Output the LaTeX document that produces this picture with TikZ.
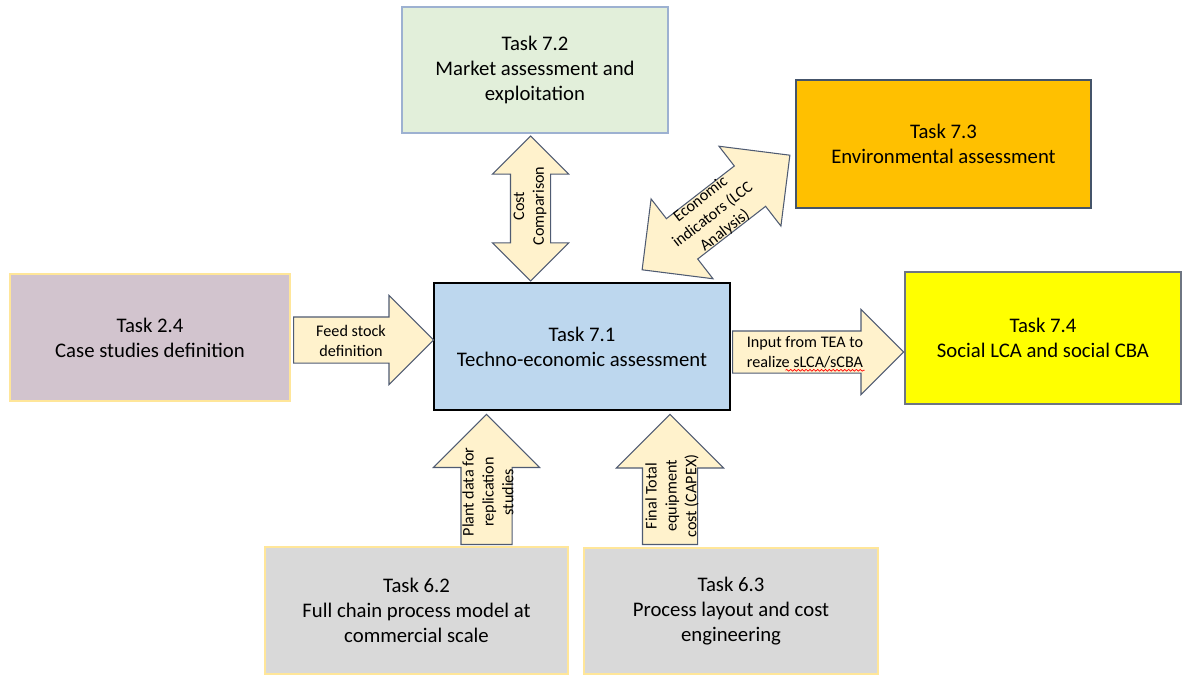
\documentclass[tikz,border=0pt]{standalone}
\usepackage{fontspec}
\setmainfont{Carlito}
\usetikzlibrary{shapes.arrows,decorations.pathmorphing}
\definecolor{greenfill}{HTML}{E2EFDA}
\definecolor{greenline}{HTML}{9DB1D1}
\definecolor{orangefill}{HTML}{FFC000}
\definecolor{slateline}{HTML}{44546A}
\definecolor{mauvefill}{HTML}{D2C4CE}
\definecolor{paleline}{HTML}{FFE699}
\definecolor{bluefill}{HTML}{BDD7EE}
\definecolor{yellowfill}{HTML}{FFFF00}
\definecolor{greyline}{HTML}{6E7582}
\definecolor{greyfill}{HTML}{D9D9D9}
\definecolor{arrowfill}{HTML}{FFF2CC}
\definecolor{arrowline}{HTML}{4F5B72}
\begin{document}
\begin{tikzpicture}[
    task/.style={draw, rectangle, align=center, inner sep=0pt, line width=0.6pt,
      font=\fontsize{11.8}{14.2}\selectfont},
    fatarrow/.style={single arrow, draw=arrowline, fill=arrowfill, line width=0.6pt,
      inner xsep=0pt, minimum width=0pt, single arrow head indent=0pt},
    twoarrow/.style={double arrow, draw=arrowline, fill=arrowfill, line width=0.6pt,
      inner xsep=0pt, minimum width=0pt, double arrow head indent=0pt},
    arrowtext/.style={align=center, inner sep=0pt, font=\fontsize{9.2}{11.3}\selectfont},
    spellwave/.style={red, line width=0.4pt, decorate,
      decoration={snake, amplitude=0.5pt, segment length=2.2pt}}
  ]
  \useasboundingbox (0,0) rectangle (23.64,13.50);
  \node[task, fill=greenfill, draw=greenline, minimum width=5.32cm, minimum height=2.52cm] (t72) at (10.70,12.10) {Task 7.2\\Market assessment and\\exploitation};
  \node[task, fill=orangefill, draw=slateline, minimum width=5.90cm, minimum height=2.56cm] (t73) at (18.87,10.62) {Task 7.3\\Environmental assessment};
  \node[task, fill=mauvefill, draw=paleline, minimum width=5.60cm, minimum height=2.54cm] (t24) at (3.00,6.75) {Task 2.4\\Case studies definition};
  \node[task, fill=bluefill, draw=black, line width=1.2pt, minimum width=5.92cm, minimum height=2.54cm] (t71) at (11.64,6.57) {Task 7.1\\Techno-economic assessment};
  \node[task, fill=yellowfill, draw=greyline, minimum width=5.52cm, minimum height=2.64cm] (t74) at (20.86,6.74) {Task 7.4\\Social LCA and social CBA};
  \node[task, fill=greyfill, draw=paleline, minimum width=6.06cm, minimum height=2.54cm] (t62) at (8.33,1.29) {Task 6.2\\Full chain process model at\\commercial scale};
  \node[task, fill=greyfill, draw=paleline, minimum width=5.88cm, minimum height=2.52cm] (t63) at (14.62,1.28) {Task 6.3\\Process layout and cost\\engineering};

  \node[twoarrow, inner ysep=0.39cm, double arrow head extend=0.36cm, minimum height=2.90cm, rotate=90] (cost) at (10.61,9.33) {};
  \node[twoarrow, inner ysep=0.50cm, double arrow head extend=0.50cm, minimum height=3.74cm, rotate=37.8] (lcc) at (14.32,9.25) {};
  \node[fatarrow, inner ysep=0.45cm, single arrow head extend=0.43cm, minimum height=2.80cm, anchor=tail] (feed) at (5.86,6.70) {};
  \node[fatarrow, inner ysep=0.41cm, single arrow head extend=0.43cm, minimum height=3.42cm, anchor=tail] (tea) at (14.64,6.46) {};
  \node[fatarrow, inner ysep=0.50cm, single arrow head extend=0.55cm, minimum height=2.60cm, anchor=tail, rotate=90] (plant) at (9.73,2.60) {};
  \node[fatarrow, inner ysep=0.54cm, single arrow head extend=0.52cm, minimum height=2.60cm, anchor=tail, rotate=90] (capex) at (13.40,2.60) {};

  \node[arrowtext, rotate=90] (costtxt) at (10.60,9.38) {Cost\\Comparison};
  \node[arrowtext, rotate=37.8] (lcctxt) at (14.26,9.20) {Economic\\indicators (LCC\\Analysis)};
  \node[arrowtext] (feedtxt) at (7.02,6.68) {Feed stock\\definition};
  \node[arrowtext] (teatxt) at (16.10,6.46) {Input from TEA to\\realize sLCA/sCBA};
  \draw[spellwave] ([xshift=-1.56cm,yshift=-1.2pt]teatxt.south east) -- ([xshift=0.02cm,yshift=-1.2pt]teatxt.south east);
  \node[arrowtext, rotate=90] (planttxt) at (9.76,3.66) {Plant data for\\replication\\studies};
  \node[arrowtext, rotate=90] (capextxt) at (13.44,3.58) {Final Total\\equipment\\cost (CAPEX)};
\end{tikzpicture}
\end{document}
